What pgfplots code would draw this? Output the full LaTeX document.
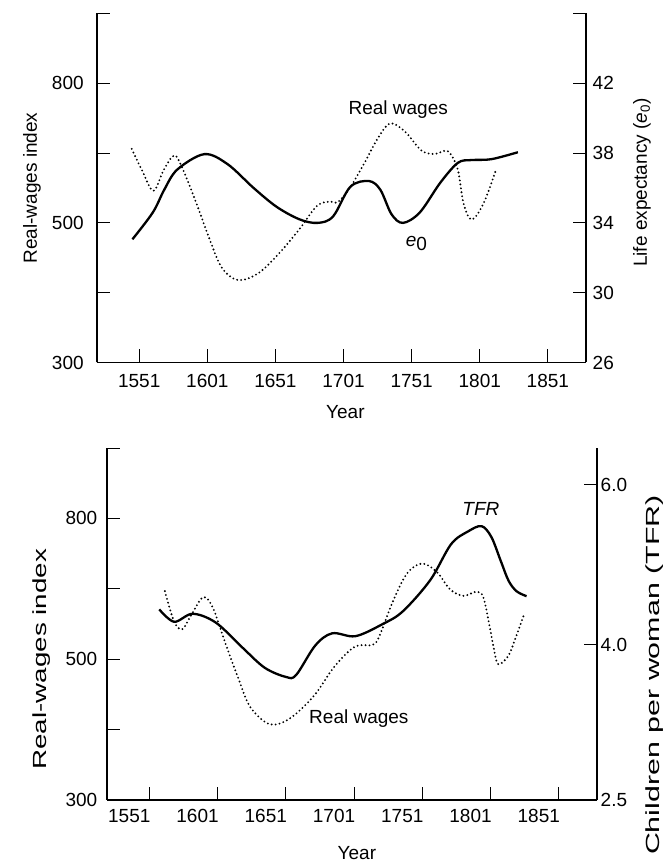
\documentclass[border=0pt]{standalone}
\usepackage{fontspec}
\setmainfont{Liberation Sans}
\usepackage{pgfplots}
\pgfplotsset{compat=1.18}

\pgfplotsset{
  panel/.style={
    scale only axis, anchor=south west,
    xmin=1520, xmax=1879,
    tick align=inside, major tick length=6.5pt,
    tick style={black, line width=0.5pt},
    axis line style={black, line width=0.55pt, -},
    /pgf/number format/assume math mode=true,
  },
  wages/.style={black, line width=1.05pt, line cap=round, dash pattern=on 0pt off 2pt, smooth, tension=0.55},
  vital/.style={black, line width=1.15pt, smooth, tension=0.55},
}

\begin{document}
\fontsize{9.5}{11}\selectfont
\begin{tikzpicture}
\useasboundingbox (0,0) rectangle (332pt,431.5pt);

% ---------- top panel: real wages and e0 ----------
\begin{axis}[panel, at={(48.5pt,250.25pt)}, width=244.5pt, height=174.5pt,
  axis x line*=bottom, axis y line*=left,
  ymin=300, ymax=950,
  y coord trafo/.code={\pgfmathparse{ifthenelse(#1<500,(#1-300)/100,2+(#1-500)/150)}},
  y coord inv trafo/.code={\pgfmathparse{ifthenelse(#1<2,300+100*#1,500+150*(#1-2))}},
  ytick={300,400,500,650,800,950}, yticklabels={300,,500,,800,},
  xtick={1551,1601,1651,1701,1751,1801,1851},
  xticklabels={1551,1601,1651,1701,1751,1801,1851},
  xticklabel style={yshift=-2.4pt},
  yticklabel style={xshift=-3.3pt},
  xlabel={Year}, ylabel={Real-wages index},
  xlabel style={at={(axis description cs:0.508,-0.143)}, anchor=center},
  ylabel style={at={(axis description cs:-0.133,0.5)}, anchor=center},
]
\addplot[wages] table {
x y
1545.5 659
1553.2 612
1561.4 569
1569.0 614
1576.7 645
1582.6 618
1593.0 542
1602.0 480
1611.6 436
1623.6 418
1638.5 428
1653.5 456
1668.6 491
1681.3 536
1691.0 546
1697.0 545
1706.0 577
1716.0 627
1726.4 683
1735.3 714
1746.2 696
1758.0 656
1767.8 648
1777.6 654
1784.8 615
1789.0 543
1795.0 507
1803.8 542
1812.9 614
};
\node at (rel axis cs:0.616,0.725) {Real wages};
\end{axis}

\begin{axis}[panel, at={(48.5pt,250.25pt)}, width=244.5pt, height=174.5pt,
  axis x line=none, axis y line*=right,
  ymin=26, ymax=46,
  ytick={26,30,34,38,42,46}, yticklabels={26,30,34,38,42,},
  ylabel={Life expectancy (\textit{e}\textsubscript{0})},
  ylabel style={at={(axis description cs:1.1145,0.516)}, anchor=center},
]
\addplot[vital] table {
x y
1546.0 33.06
1561.0 34.60
1569.5 35.92
1579.0 37.06
1598.8 37.94
1615.8 37.37
1635.0 36.00
1651.9 34.92
1668.8 34.20
1682.0 34.00
1693.3 34.37
1706.0 36.07
1719.6 36.40
1728.0 35.90
1736.2 34.50
1744.6 34.00
1757.0 34.60
1772.0 36.30
1784.9 37.44
1794.7 37.60
1809.5 37.65
1829.0 38.05
};
\node at (rel axis cs:0.653,0.341) {\textit{e}\raisebox{-0.35ex}{0}};
\end{axis}

% ---------- bottom panel: real wages and TFR ----------
\begin{axis}[panel, at={(53.5pt,31.5pt)}, width=245pt, height=176pt,
  axis x line*=bottom, axis y line*=left,
  ymin=300, ymax=950,
  y coord trafo/.code={\pgfmathparse{ifthenelse(#1<500,(#1-300)/100,2+(#1-500)/150)}},
  y coord inv trafo/.code={\pgfmathparse{ifthenelse(#1<2,300+100*#1,500+150*(#1-2))}},
  ytick={300,400,500,650,800,950}, yticklabels={300,,500,,800,},
  xtick={1551,1601,1651,1701,1751,1801,1851},
  xticklabels={1551,1601,1651,1701,1751,1801,1851},
  xticklabel style={xshift=-10pt, yshift=-1.4pt},
  yticklabel style={xshift=-1.5pt},
  xlabel={Year}, ylabel={Real-wages index},
  xlabel style={at={(axis description cs:0.51,-0.152)}, anchor=center},
  ylabel style={at={(axis description cs:-0.1327,0.40)}, anchor=center, xscale=1.46},
]
\addplot[wages] table {
x y
1562.4 645
1569.2 580
1575.2 564
1581.5 593
1590.4 632
1597.5 610
1606.6 535
1615.8 475
1625.0 432
1639.4 407.5
1654.1 416
1671.6 448
1686.8 490
1701.8 527
1714.2 530
1719.2 547
1729.6 624
1739.9 683
1751.0 704
1761.9 685
1771.3 649
1781.0 635
1790.8 644
1795.7 632
1800.0 575
1803.2 526
1806.6 493
1814.0 507
1819.3 545
1825.9 598
};
\node at (rel axis cs:0.514,0.232) {Real wages};
\end{axis}

\begin{axis}[panel, at={(53.5pt,31.5pt)}, width=245pt, height=176pt,
  axis x line=none, axis y line*=right,
  ymin=2.5, ymax=6.462,
  y coord trafo/.code={\pgfmathparse{ifthenelse(#1<4,(#1-2.5)*1.468,2.2017+(#1-4)*1.1364)}},
  y coord inv trafo/.code={\pgfmathparse{ifthenelse(#1<2.2017,2.5+#1/1.468,4+(#1-2.2017)/1.1364)}},
  ytick={2.5,4,6}, yticklabels={2.5,4.0,6.0},
  yticklabel style={xshift=-1.5pt},
  ylabel={Children per woman (TFR)},
  ylabel style={at={(axis description cs:1.118,0.355)}, anchor=center, xscale=1.6},
]
\addplot[vital] table {
x y
1558.3 4.445
1569.2 4.29
1582.8 4.39
1599.7 4.28
1618.8 3.98
1635.5 3.78
1651.3 3.69
1658.6 3.71
1672.6 3.995
1685.0 4.146
1702.0 4.11
1721.8 4.26
1736.7 4.42
1756.8 4.81
1772.1 5.26
1784.6 5.42
1794.4 5.485
1801.6 5.35
1808.5 5.05
1814.3 4.80
1820.2 4.67
1827.4 4.61
};
\node at (rel axis cs:0.763,0.826) {\textit{TFR}};
\end{axis}
\end{tikzpicture}
\end{document}
